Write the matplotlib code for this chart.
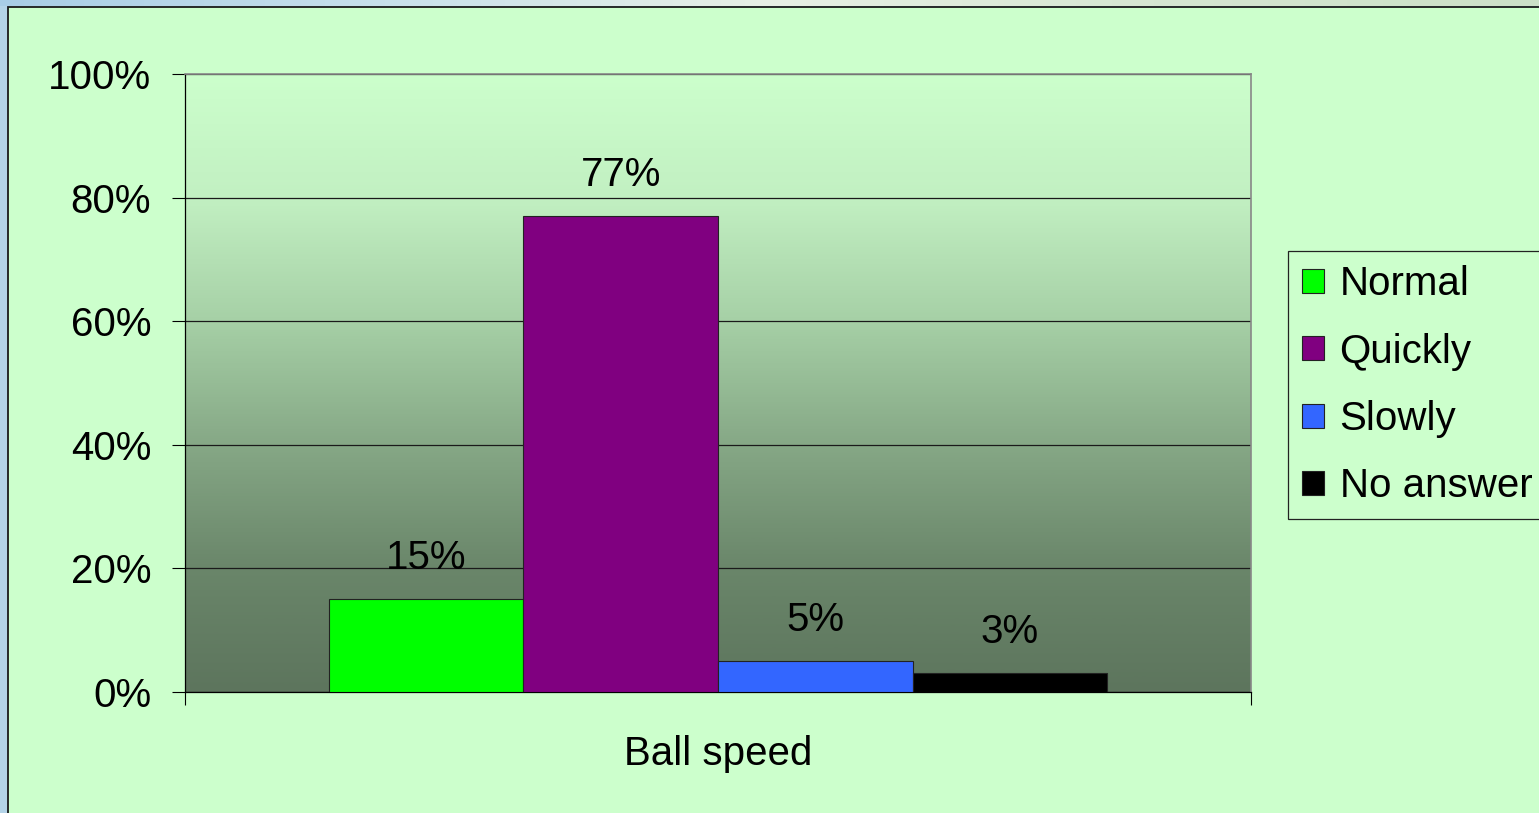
import numpy as np
import matplotlib.pyplot as plt
from matplotlib.colors import LinearSegmentedColormap
from matplotlib.patches import Rectangle

plt.rcParams['font.family'] = ['Liberation Sans', 'DejaVu Sans']

# Survey answers for ball speed (percent of responses)
categories = ['Normal', 'Quickly', 'Slowly', 'No answer']
values = [15, 77, 5, 3]
colors = ['#00FF00', '#800080', '#3366FF', '#000000']
group_label = 'Ball speed'
y_ticks = [0, 20, 40, 60, 80, 100]

fig = plt.figure(figsize=(15.39, 8.13), dpi=100)
fig.patch.set_facecolor('#B4D4E8')

# light blue strip along the top edge, fading to white-green on the right
strip = fig.add_axes([0, 1 - 6.5 / 813, 1, 6.5 / 813])
strip_cmap = LinearSegmentedColormap.from_list(
    'strip', ['#A8CDE6', '#C8E0EC', '#E8F0E6', '#D6E6D2', '#CCE0C8'])
strip.imshow(np.linspace(0, 1, 256)[None, :], cmap=strip_cmap, aspect='auto',
             extent=[0, 1, 0, 1])
strip.axis('off')

# main pale green panel with a dark border (kept behind the axes)
fig.patches.append(Rectangle((7.5 / 1539, -0.05), 1.1, 1.05 - 7.5 / 813,
                             transform=fig.transFigure, facecolor='#CCFFCC',
                             edgecolor='#1A1A1A', linewidth=1.3, zorder=-5))

ax = fig.add_axes([185 / 1539, 121 / 813, 1066 / 1539, 618 / 813])
ax.set_facecolor('none')

# vertical gradient inside the plot area
grad = LinearSegmentedColormap.from_list(
    'bg', [(0.0, '#5D755D'), (0.2, '#6A866A'), (0.4, '#86A886'),
           (0.6, '#A6D0A6'), (0.8, '#C2F0C2'), (1.0, '#CCFFCC')])
ax.imshow(np.linspace(0, 1, 512)[:, None], cmap=grad, origin='lower',
          aspect='auto', extent=[-0.5, 0.5, 0, 100], zorder=0)

width = 0.1825
offsets = (np.arange(len(values)) - 1.5) * width
bars = ax.bar(offsets, values, width=width, color=colors, edgecolor='#222222',
              linewidth=0.8, label=categories, zorder=3)

for x, v in zip(offsets, values):
    ax.annotate(f'{v}%', xy=(x, v), xytext=(0, 22), textcoords='offset points',
                ha='center', va='baseline', fontsize=29, color='black', zorder=4)

ax.set_xlim(-0.5, 0.5)
ax.set_ylim(0, 100)
ax.set_yticks(y_ticks)
ax.set_yticklabels([f'{t}%' for t in y_ticks])
ax.tick_params(axis='y', direction='out', length=9.4, width=0.8, pad=15,
               labelsize=29, colors='black')

# category axis: boundary ticks only, label set in the middle
ax.set_xticks([-0.5, 0.5])
ax.set_xticklabels(['', ''])
ax.tick_params(axis='x', direction='out', length=9.4, width=0.8)
ax.annotate(group_label, xy=(0, 0), xycoords=('data', 'axes fraction'),
            xytext=(0, -52.5), textcoords='offset points', ha='center',
            va='baseline', fontsize=29)

ax.yaxis.grid(True, color='#1A1A1A', linewidth=0.9, zorder=1)
ax.set_axisbelow(True)
ax.spines['left'].set_color('black')
ax.spines['bottom'].set_color('black')
ax.spines['left'].set_linewidth(0.9)
ax.spines['bottom'].set_linewidth(0.9)
for side in ('top', 'right'):
    ax.spines[side].set_color('#888888')
    ax.spines[side].set_linewidth(1.2)

leg = fig.legend(handles=bars.patches, labels=categories, loc='upper left',
                 bbox_to_anchor=(1288 / 1539, 1 - 251 / 813), borderaxespad=0,
                 fontsize=29, frameon=True, fancybox=False, framealpha=1,
                 facecolor='#CCFFCC', edgecolor='#222222',
                 handlelength=0.55, handleheight=0.55, handletextpad=0.38,
                 labelspacing=0.73, borderpad=0.35)
leg.get_frame().set_linewidth(0.9)

fig.savefig('out.png', dpi=100, facecolor=fig.get_facecolor())
